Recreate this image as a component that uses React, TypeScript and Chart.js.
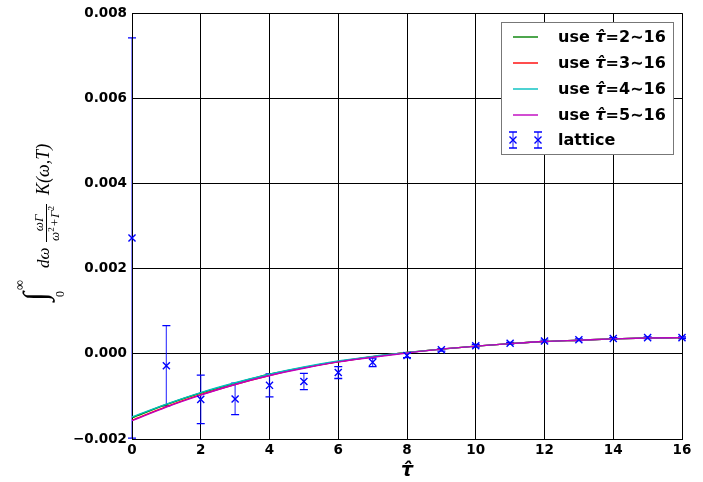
import React, { useEffect, useRef } from 'react';
import { Chart, registerables } from 'chart.js';

Chart.register(...registerables);

// ---- data ----
const tau = [0, 1, 2, 3, 4, 5, 6, 7, 8, 9, 10, 11, 12, 13, 14, 15, 16];
const latticeY = [0.00272, -0.00028, -0.00107, -0.00106, -0.00074, -0.00065, -0.00044, -0.0002, -0.00004, 0.000094, 0.00019, 0.00025, 0.0003, 0.00033, 0.00036, 0.00038, 0.00038];
const latticeErr = [0.0047, 0.00094, 0.00057, 0.00037, 0.00027, 0.00019, 0.00014, 0.0001, 0.00005, 0.00003, 0.00003, 0.00002, 0.00002, 0.00002, 0.00002, 0.00002, 0.00002];

const fit2 = [-0.0015, -0.00119, -0.00092, -0.00069, -0.00048, -0.00032, -0.00018, -0.00007, 0.00003, 0.00011, 0.00018, 0.00024, 0.00029, 0.00032, 0.00035, 0.00037, 0.00038];
const fit3 = [-0.00156, -0.00124, -0.00096, -0.00072, -0.00051, -0.00033, -0.00019, -0.00007, 0.00003, 0.00011, 0.00018, 0.00024, 0.00029, 0.00032, 0.00035, 0.00037, 0.00038];
const fit4 = [-0.00148, -0.00118, -0.00091, -0.00068, -0.00048, -0.00031, -0.00017, -0.00006, 0.00003, 0.00011, 0.00018, 0.00024, 0.00029, 0.00032, 0.00035, 0.00037, 0.00038];
const fit5 = [-0.00157, -0.00125, -0.00097, -0.00072, -0.00051, -0.00034, -0.00019, -0.00008, 0.00002, 0.00011, 0.00018, 0.00024, 0.00029, 0.00032, 0.00035, 0.00037, 0.00038];

const fitRanges = ['2', '3', '4', '5'];
const fitEnd = '16';
const fitColors = ['#008000', '#ff0000', '#00bfbf', '#bf00bf'];
const latticeLabel = 'lattice';
const latticeColor = '#0000ff';

const xMin = 0, xMax = 16, xStep = 2;
const yMin = -0.002, yMax = 0.008, yStep = 0.002;

const MATH = '"Liberation Serif"';

function drawErrMarker(ctx: CanvasRenderingContext2D, px: number, top: number, bot: number, py: number) {
  ctx.strokeStyle = 'rgba(0,0,255,0.7)';
  ctx.lineWidth = 1.3;
  ctx.beginPath();
  ctx.moveTo(px, top);
  ctx.lineTo(px, bot);
  ctx.stroke();
  ctx.strokeStyle = latticeColor;
  ctx.beginPath();
  ctx.moveTo(px - 4, top);
  ctx.lineTo(px + 4, top);
  ctx.moveTo(px - 4, bot);
  ctx.lineTo(px + 4, bot);
  ctx.stroke();
  ctx.lineWidth = 1.4;
  ctx.beginPath();
  ctx.moveTo(px - 3.5, py - 3.5);
  ctx.lineTo(px + 3.5, py + 3.5);
  ctx.moveTo(px - 3.5, py + 3.5);
  ctx.lineTo(px + 3.5, py - 3.5);
  ctx.stroke();
}

const errorBarPlugin = {
  id: 'errorBars',
  beforeDatasetsDraw(chart: any) {
    const { ctx, scales, chartArea } = chart;
    const x = scales.x, y = scales.y;
    ctx.save();
    for (let i = 0; i < tau.length; i++) {
      const px = x.getPixelForValue(tau[i]);
      const top = y.getPixelForValue(latticeY[i] + latticeErr[i]);
      const bot = y.getPixelForValue(latticeY[i] - latticeErr[i]);
      ctx.strokeStyle = 'rgba(0,0,255,0.7)';
      ctx.lineWidth = 1.3;
      ctx.beginPath();
      ctx.moveTo(px, top);
      ctx.lineTo(px, bot);
      ctx.stroke();
      ctx.strokeStyle = latticeColor;
      ctx.beginPath();
      ctx.moveTo(px - 4, top);
      ctx.lineTo(px + 4, top);
      ctx.moveTo(px - 4, bot);
      ctx.lineTo(px + 4, bot);
      ctx.stroke();
    }
    ctx.strokeStyle = '#000';
    ctx.lineWidth = 1;
    ctx.beginPath();
    ctx.moveTo(Math.round(chartArea.left) + 0.5, chartArea.top);
    ctx.lineTo(Math.round(chartArea.left) + 0.5, chartArea.bottom);
    ctx.stroke();
    ctx.restore();
  },
};

function drawSegments(ctx: CanvasRenderingContext2D, x: number, y: number, segs: [string, string][]) {
  let cx = x;
  for (const [font, text] of segs) {
    ctx.font = font;
    ctx.fillText(text, cx, y);
    cx += ctx.measureText(text).width;
  }
}

const annotationPlugin = {
  id: 'annotations',
  afterDraw(chart: any) {
    const { ctx, chartArea } = chart;
    ctx.save();
    // legend
    const lx = 501, ly = 22, lw = 172, lh = 132;
    ctx.fillStyle = '#ffffff';
    ctx.fillRect(lx, ly, lw, lh);
    ctx.strokeStyle = '#777777';
    ctx.lineWidth = 1;
    ctx.strokeRect(lx + 0.5, ly + 0.5, lw, lh);
    const rows = [37, 63, 89, 115, 140];
    ctx.fillStyle = '#000';
    ctx.textBaseline = 'middle';
    ctx.textAlign = 'left';
    fitRanges.forEach((r, i) => {
      ctx.strokeStyle = fitColors[i];
      ctx.lineWidth = 1.4;
      ctx.beginPath();
      ctx.moveTo(513, rows[i]);
      ctx.lineTo(538, rows[i]);
      ctx.stroke();
      drawSegments(ctx, 558, rows[i] + 1, [
        ['bold 16px "DejaVu Sans"', 'use '],
        ['bold italic 16px "DejaVu Sans"', 'τ\u0302'],
        ['bold 16px "DejaVu Sans"', '=' + r + '∼' + fitEnd],
      ]);
    });
    ctx.save();
    drawErrMarker(ctx, 513, rows[4] - 8, rows[4] + 8, rows[4]);
    drawErrMarker(ctx, 538, rows[4] - 8, rows[4] + 8, rows[4]);
    ctx.restore();
    ctx.fillStyle = '#000';
    ctx.font = 'bold 16px "DejaVu Sans"';
    ctx.fillText(latticeLabel, 558, rows[4] + 1);

    // x title
    ctx.textAlign = 'center';
    ctx.textBaseline = 'alphabetic';
    ctx.font = 'bold italic 19px "DejaVu Sans"';
    ctx.fillText('τ\u0302', (chartArea.left + chartArea.right) / 2, 476);

    // y title (rotated math)
    ctx.save();
    ctx.translate(49, 305);
    ctx.rotate(-Math.PI / 2);
    ctx.textAlign = 'left';
    ctx.textBaseline = 'alphabetic';
    // integral sign sized to fit its box in the reference (v from -27 to +6, u from 2)
    ctx.font = `italic 60px ${MATH}`;
    let m = ctx.measureText('∫');
    let h = (m.actualBoundingBoxAscent || 30) + (m.actualBoundingBoxDescent || 0);
    const intSize = Math.max(20, Math.min(120, 60 * 33 / (h || 33)));
    ctx.font = `italic ${intSize.toFixed(1)}px ${MATH}`;
    m = ctx.measureText('∫');
    const asc = m.actualBoundingBoxAscent || intSize * 0.7;
    const left = m.actualBoundingBoxLeft || 0;
    ctx.fillText('∫', 2 + left, -27 + asc);
    ctx.font = `14px ${MATH}`;
    ctx.fillText('∞', 15, -25);
    ctx.font = `12px ${MATH}`;
    ctx.fillText('0', 8, 15);
    ctx.font = `italic 17px ${MATH}`;
    ctx.fillText('dω', 37, 0);
    // fraction
    ctx.strokeStyle = '#000';
    ctx.lineWidth = 1;
    ctx.beginPath();
    ctx.moveTo(63, -2.5);
    ctx.lineTo(101, -2.5);
    ctx.stroke();
    ctx.font = `italic 13px ${MATH}`;
    ctx.textAlign = 'center';
    ctx.fillText('ωΓ', 82, -6);
    ctx.textAlign = 'left';
    let u = 64;
    ctx.font = `italic 13px ${MATH}`;
    ctx.fillText('ω', u, 10); u += ctx.measureText('ω').width;
    ctx.font = `9px ${MATH}`;
    ctx.fillText('2', u, 5); u += ctx.measureText('2').width + 1;
    ctx.font = `13px ${MATH}`;
    ctx.fillText('+', u, 10); u += ctx.measureText('+').width + 1;
    ctx.font = `italic 13px ${MATH}`;
    ctx.fillText('Γ', u, 10); u += ctx.measureText('Γ').width;
    ctx.font = `9px ${MATH}`;
    ctx.fillText('2', u, 5);
    ctx.font = `italic 18px ${MATH}`;
    ctx.fillText('K(ω,T)', 110, 0);
    ctx.restore();

    ctx.restore();
  },
};

export default function App() {
  const canvasRef = useRef<HTMLCanvasElement | null>(null);

  useEffect(() => {
    const canvas = canvasRef.current;
    if (!canvas) return;
    const fits = [fit2, fit3, fit4, fit5];
    const fitDatasets = fits.map((vals, i) => ({
      type: 'line' as const,
      label: 'use τ̂=' + fitRanges[i] + '∼' + fitEnd,
      data: tau.map((t, j) => ({ x: t, y: vals[j] })),
      borderColor: fitColors[i],
      backgroundColor: fitColors[i],
      borderWidth: 1.4,
      pointRadius: 0,
      cubicInterpolationMode: 'monotone' as const,
      fill: false,
      order: 4 - i,
    }));
    const chart = new Chart(canvas, {
      type: 'line',
      data: {
        datasets: [
          ...fitDatasets,
          {
            type: 'line' as const,
            label: latticeLabel,
            data: tau.map((t, j) => ({ x: t, y: latticeY[j] })),
            showLine: false,
            pointStyle: 'crossRot',
            pointRadius: 5,
            pointBorderWidth: 1.4,
            borderColor: latticeColor,
            backgroundColor: latticeColor,
            clip: false,
            order: 0,
          } as any,
        ],
      },
      options: {
        animation: false,
        responsive: false,
        layout: { padding: { top: 13, right: 21, left: 0, bottom: 0 } },
        plugins: {
          legend: { display: false },
          tooltip: { enabled: false },
        },
        scales: {
          x: {
            type: 'linear',
            min: xMin,
            max: xMax,
            ticks: {
              stepSize: xStep,
              color: '#000',
              font: { family: 'DejaVu Sans', size: 13.5, weight: 'bold' },
              padding: 3,
              maxRotation: 0,
            },
            grid: { color: '#000', lineWidth: 1, drawTicks: false },
            border: { display: true, color: '#000', width: 1 },
            afterFit: (scale: any) => { scale.height = 43; },
          },
          y: {
            type: 'linear',
            min: yMin,
            max: yMax,
            ticks: {
              stepSize: yStep,
              color: '#000',
              font: { family: 'DejaVu Sans', size: 13.5, weight: 'bold' },
              padding: 5,
              callback: (v: any) => {
                const n = Number(v);
                if (Math.abs(n) < 1e-9) return '0.000';
                const s = Math.abs(n).toFixed(3);
                return n < 0 ? '\u2212' + s : s;
              },
            },
            grid: { color: '#000', lineWidth: 1, drawTicks: false },
            border: { display: true, color: '#000', width: 1 },
            afterFit: (scale: any) => { scale.width = 132; },
          },
        },
      } as any,
      plugins: [errorBarPlugin, annotationPlugin],
    });
    return () => chart.destroy();
  }, []);

  return (
    <div style={{ position: 'fixed', left: 0, top: 0, width: 703, height: 482, background: '#fff' }}>
      <canvas ref={canvasRef} width={703} height={482} style={{ display: 'block' }} />
    </div>
  );
}
